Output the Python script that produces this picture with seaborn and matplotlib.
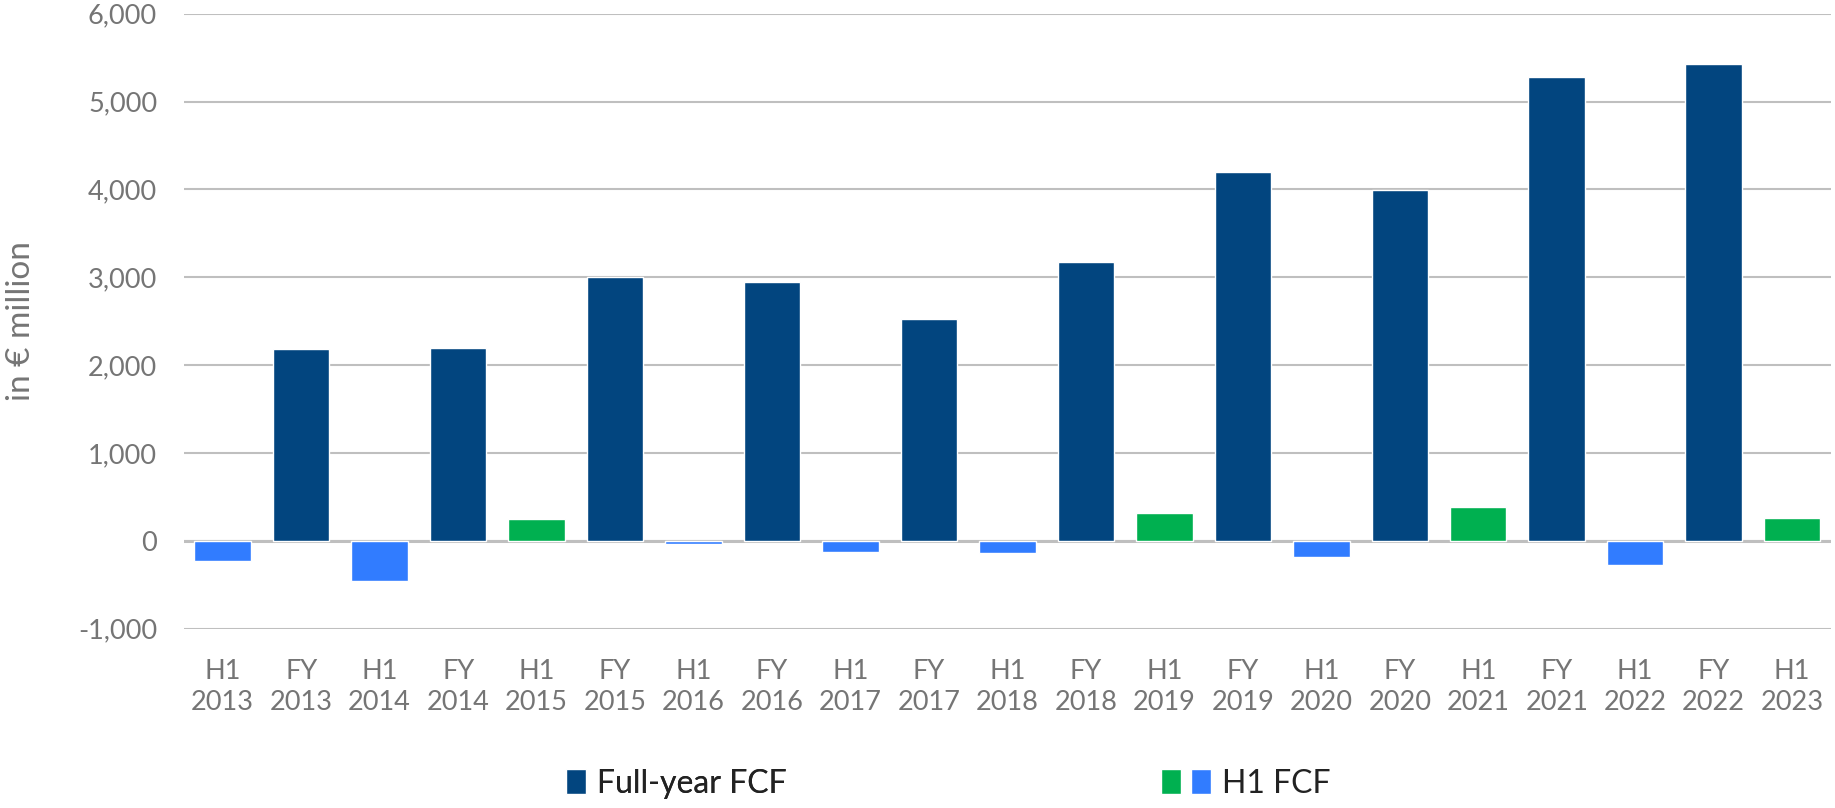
import pandas as pd
import matplotlib.pyplot as plt
import seaborn as sns
from matplotlib.patches import Patch
from matplotlib.legend_handler import HandlerTuple
from matplotlib.ticker import FuncFormatter

# -------- DATA --------
periods = ["H1", "FY", "H1", "FY", "H1", "FY", "H1", "FY", "H1", "FY", "H1",
           "FY", "H1", "FY", "H1", "FY", "H1", "FY", "H1", "FY", "H1"]
years = ["2013", "2013", "2014", "2014", "2015", "2015", "2016", "2016", "2017", "2017", "2018",
         "2018", "2019", "2019", "2020", "2020", "2021", "2021", "2022", "2022", "2023"]
fcf = [-230, 2180, -460, 2200, 250, 3000, -40, 2950, -125, 2520, -135,
       3170, 315, 4200, -185, 3990, 380, 5280, -280, 5430, 260]

DARK_BLUE = "#02457F"
LIGHT_BLUE = "#317CFF"
GREEN = "#00B050"
GREY = "#757575"

df = pd.DataFrame({"period": periods, "year": years, "fcf": fcf})
df["label"] = df["period"] + "\n" + df["year"]
df["kind"] = "FY"
df.loc[(df["period"] == "H1") & (df["fcf"] >= 0), "kind"] = "H1+"
df.loc[(df["period"] == "H1") & (df["fcf"] < 0), "kind"] = "H1-"
palette = {"FY": DARK_BLUE, "H1+": GREEN, "H1-": LIGHT_BLUE}

# -------- PLOT --------
sns.set_style("white")
plt.rcParams["font.family"] = ["Lato", "DejaVu Sans"]

fig = plt.figure(figsize=(18.35, 8.08), dpi=100)
ax = fig.add_axes([0.1, 0.222, 0.898, 0.761])

sns.barplot(data=df, x="label", y="fcf", hue="kind", palette=palette,
            dodge=False, width=0.72, legend=False, saturation=1, ax=ax)

ax.set_ylim(-1000, 6000)
ax.set_yticks(range(-1000, 6001, 1000))
ax.yaxis.set_major_formatter(FuncFormatter(lambda v, p: f"{int(v):,}"))
ax.set_xlim(-0.5, len(df) - 0.5)
ax.yaxis.grid(True, color="#BFBFBF", linewidth=1.5)
ax.set_axisbelow(True)
ax.axhline(0, color="#BFBFBF", linewidth=2.2, zorder=0.5)
for s in ax.spines.values():
    s.set_visible(False)

ax.tick_params(axis="both", length=0, labelsize=19.5, colors=GREY)
ax.tick_params(axis="y", pad=19)
ax.tick_params(axis="x", pad=22)
ax.set_xlabel("")
ax.set_ylabel("in € million", fontsize=24, color=GREY, labelpad=30)
for t in ax.get_xticklabels():
    t.set_linespacing(1.3)

# -------- LEGEND --------
leg1 = fig.legend([Patch(facecolor=DARK_BLUE)], ["Full-year FCF"],
                  loc="center left", bbox_to_anchor=(0.3, 0.03), frameon=False,
                  fontsize=23, handlelength=0.62, handleheight=0.85, handletextpad=0.35,
                  borderpad=0, labelcolor="#222222")
fig.legend([(Patch(facecolor=GREEN), Patch(facecolor=LIGHT_BLUE))], ["H1 FCF"],
           handler_map={tuple: HandlerTuple(ndivide=None, pad=0.3)},
           loc="center left", bbox_to_anchor=(0.624, 0.03), frameon=False,
           fontsize=23, handlelength=1.55, handleheight=0.85, handletextpad=0.35,
           borderpad=0, labelcolor="#222222")
fig.add_artist(leg1)

fig.savefig("out.png", dpi=100)
